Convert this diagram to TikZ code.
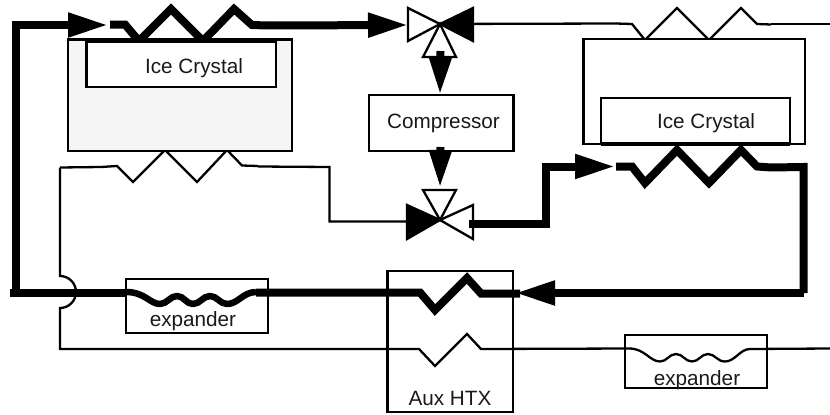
\documentclass[tikz,border=0pt]{standalone}
\usepackage{fontspec}
\setmainfont{Liberation Sans}
\usetikzlibrary{arrows.meta}
\tikzset{
  thinpipe/.style={line width=2.3pt,line join=miter,draw=black},
  thickpipe/.style={line width=8pt,line join=miter,draw=black},
  wavepipe/.style={line width=6.5pt,line join=round,draw=black},
  bigtip/.style={-{Triangle[length=40pt,width=23pt]}},
  boxnode/.style={draw=black,line width=2.3pt,anchor=north west,inner sep=0pt,outer sep=0pt},
  lbl/.style={anchor=base,inner sep=0pt,font=\fontsize{20.7}{24}\selectfont,text=black!90},
  valvewhite/.style={draw=black,line width=2.3pt,fill=white,line join=miter},
  valveblack/.style={draw=black,line width=2.3pt,fill=black,line join=miter},
}
\begin{document}
\begin{tikzpicture}[x=1pt,y=-1pt]
\useasboundingbox (0,0) rectangle (830,415);
% junction coordinates
\coordinate (tv) at (440,24);
\coordinate (bv) at (440,220);
\coordinate (tl) at (15.5,25);
\coordinate (bl) at (15.5,293);
\coordinate (start) at (10,293);
\coordinate (tlend) at (108,25);
\coordinate (tvin) at (408,25);
\coordinate (rcorner) at (803.5,293);
\coordinate (rtop) at (803.5,167);
\coordinate (bvout) at (469,223.5);
\coordinate (bvup) at (545.5,223.5);
\coordinate (bvup2) at (545.5,166.5);
\coordinate (rcoilin) at (615,166.5);
\coordinate (thinr) at (830,24);
\coordinate (thinb) at (830,348.5);
\coordinate (thl) at (60,167.5);
\coordinate (hump1) at (60,276);
\coordinate (hump2) at (60,308);
\coordinate (thb) at (60,349);
\coordinate (bvin) at (407,221.5);
\coordinate (lcorner) at (329.5,167);
\coordinate (lcorner2) at (329.5,221.5);

% coils behind the tanks
\draw[thickpipe] (110,24.5) -- (125,24.5) -- (139,41) -- (171,9) -- (203,41) -- (234,9) -- (252,25) -- (267,25.5);
\draw[thinpipe] (616,23.5) -- (632,24) -- (645,40) -- (677,8) -- (709,40) -- (741,8) -- (757,24) -- (771,24.5);
\draw[thickpipe] (616,166.5) -- (632,166.5) -- (645,183) -- (677,150) -- (709,183) -- (741,150) -- (757,166.5) -- (771,167.5);
\draw[thinpipe] (101,167) -- (117,166) -- (133,182) -- (165,150) -- (197,182) -- (227,150) -- (242,165.5) -- (258,166);

% tanks
\node[boxnode,fill=black!4,minimum width=224pt,minimum height=111.5pt] (tankL) at (68,39.5) {};
\node[boxnode,fill=white,minimum width=189.5pt,minimum height=45pt] (crystalL) at (86.5,42) {};
\node[lbl] (iceL) at (194,73) {Ice Crystal};
\node[boxnode,fill=white,minimum width=221.5pt,minimum height=105pt] (tankR) at (583.5,39) {};
\node[boxnode,fill=white,minimum width=189pt,minimum height=46pt] (crystalR) at (601,98) {};
\node[lbl] (iceR) at (706,128) {Ice Crystal};
\draw[line width=3.4pt] (crystalR.south west) -- (crystalR.south east);

% other boxes
\node[boxnode,fill=white,minimum width=144.5pt,minimum height=56pt] (comp) at (369,95) {};
\node[lbl] (compl) at (443.5,128) {Compressor};
\node[boxnode,minimum width=125.5pt,minimum height=141pt] (aux) at (387.5,271) {};
\node[lbl] (auxl) at (450,405.7) {Aux HTX};
\node[boxnode,minimum width=142pt,minimum height=54pt] (expL) at (126,279) {};
\node[lbl] (expLl) at (193,326) {expander};
\node[boxnode,minimum width=142pt,minimum height=53pt] (expR) at (625,335) {};
\node[lbl] (expRl) at (697,385) {expander};

% thin circuit
\draw[thinpipe] (thl) -- (101,167);
\draw[thinpipe] (thl) -- (hump1) arc[start angle=90,end angle=-90,radius=16pt] -- (thb) -- (387.5,349);
\draw[thinpipe] (258,166.5) -- (lcorner) -- (lcorner2) -- (bvin);
\draw[thinpipe] (387.5,349) -- (419,349) -- (435,366) -- (467,334) -- (481,349) -- (630,348.5);
\draw[thinpipe] (630,348.5) .. controls (645,349) and (650,361.5) .. (660,361.5) .. controls (667,361.5) and (669,354) .. (676,354) .. controls (683,354) and (685,361.5) .. (692,361.5) .. controls (699,361.5) and (701,354) .. (708,354) .. controls (715,354) and (717,361.5) .. (725,361.5) .. controls (735,361.5) and (740,349) .. (750,349) -- (thinb);
\draw[thinpipe] (771,24) -- (thinr);
\draw[thinpipe] (616,23.5) -- (tv);

% thick circuit
\draw[thickpipe] (start) -- (126,293);
\draw[thickpipe,bigtip] (bl) -- (tl) -- (tlend);
\draw[thickpipe,bigtip] (267,25.5) -- (tvin);
\draw[wavepipe] (126,292) .. controls (145,292) and (150,304) .. (160,304) .. controls (167,304) and (170,296) .. (177,296) .. controls (184,296) and (186,304) .. (193,304) .. controls (200,304) and (203,296) .. (210,296) .. controls (217,296) and (220,304) .. (227,304) .. controls (238,304) and (243,292) .. (256,292);
\draw[thickpipe] (256,292.5) -- (420,292.5) -- (435,310) -- (467,278) -- (481,293.5) -- (520,293.5);
\draw[thickpipe,bigtip] (rcorner) -- (515,293);
\draw[thickpipe] (771,167.5) -- (rtop) -- (rcorner);
\draw[thickpipe,bigtip] (bvout) -- (bvup) -- (bvup2) -- (rcoilin);

% top valve
\draw[valvewhite] (408,8) -- (408,41) -- (tv) -- cycle;
\draw[valveblack] (473,8) -- (473,41) -- (tv) -- cycle;
\draw[valvewhite] (tv) -- (423,57) -- (456,57) -- cycle;
% bottom valve
\draw[valvewhite] (bv) -- (423,190) -- (456,190) -- cycle;
\draw[valveblack] (407,205) -- (407,239) -- (bv) -- cycle;
\draw[valvewhite] (473,205) -- (473,239) -- (bv) -- cycle;
\draw[thickpipe] (bvout) -- (480,223.5);

% compressor arrows
\coordinate (ca) at (440.5,51);
\coordinate (cb) at (440.5,147);
\coordinate (cc) at (440,188);
\draw[line width=8pt,-{Triangle[length=38pt,width=21pt]}] (ca) -- (comp.north-|tv);
\draw[line width=8pt,-{Triangle[length=38pt,width=21pt]}] (cb) -- (cc);
\end{tikzpicture}
\end{document}
